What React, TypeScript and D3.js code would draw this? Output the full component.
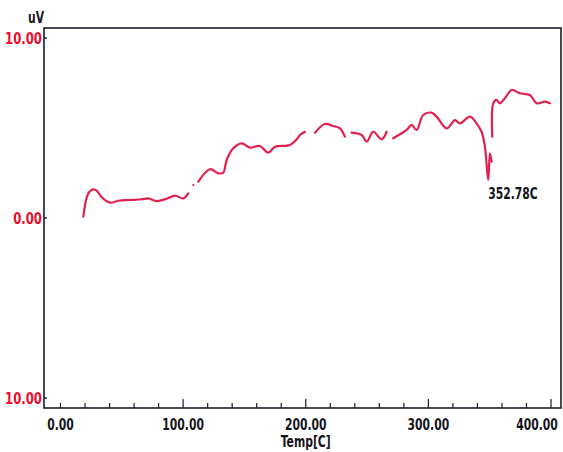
import * as d3 from "d3";

// DTA trace; null marks a break in the pen trace
const temps = [
  18.6, 22.7, 26.7, 29.5, 33.6, 40.4, 47.1, 56.7, 66.2, 71.6, 78.4, 86.6, 93.4, 100.1, 104.2,
  106, 108.3, 110, 112.4, 121.9, 128.7, 132.7, 135.5, 140.9, 147.7, 154.5, 162.6, 169.4, 174.9,
  187.1, 192.6, 195.3, 199.3, 202, 207.5, 215.6, 222.4, 227.9, 231.9, 234.5, 237.4, 245.6, 249.7,
  255, 261.9, 266, 268.5, 271.3, 282.3, 286.3, 290.4, 295.8, 302.6, 306.7, 314.9, 321.7, 325.7,
  333.9, 339.3, 343.4, 346.1, 348.8, 350.2, 351.6, 351.9, 352.1, 352.9, 355.6, 358.3, 362.4,
  367.9, 374.6, 382.8, 388.3, 395, 399.1,
];
const microvolts: (number | null)[] = [
  0.07, 1.37, 1.59, 1.52, 1.15, 0.85, 0.96, 1.0, 1.04, 1.09, 0.94, 1.07, 1.24, 1.09, 1.37,
  null, 1.83, null, 2.02, 2.71, 2.48, 2.52, 3.22, 3.87, 4.15, 3.91, 4.0, 3.63, 3.96,
  4.06, 4.37, 4.61, 4.79, null, 4.74, 5.22, 5.11, 4.98, 4.52, null, 4.74, 4.61, 4.24,
  4.79, 4.37, 4.79, null, 4.43, 4.89, 5.17, 4.89, 5.72, 5.85, 5.63, 4.98, 5.44, 5.26,
  5.63, 5.26, 4.79, 3.96, 2.11, 3.59, 3.13, null, 4.52, 6.37, 6.56, 6.37, 6.65,
  7.11, 6.93, 6.83, 6.37, 6.46, 6.37,
];

const xTicks = d3.range(0, 401, 20);
const xLabels = ["0.00", "100.00", "200.00", "300.00", "400.00"];
const yTicks = [10, 0, -10];
const yLabels = ["10.00", "0.00", "10.00"];

const peakLabel = "352.78C";
const peakTemp = 348.8;
const peakValue = 2.11;

const left = 44, top = 28, right = 561, bottom = 408;

const font = "'DejaVu Sans Condensed', 'DejaVu Sans', sans-serif";

// tall, narrow bold text like the plotter's
const Label = ({ x, y, anchor = "middle", fill = "#151520", size = 12, children }: any) => (
  <text transform={`translate(${x},${y}) scale(1,1.25)`} textAnchor={anchor} dominantBaseline="central"
    fontFamily={font} fontWeight="bold" fontSize={size} fill={fill}>{children}</text>
);

export default function App() {
  const x = d3.scaleLinear().domain([0, 400]).range([60.5, 551]);
  const y = d3.scaleLinear().domain([10, -10]).range([38, 398]);

  const pts = temps.map((t, i) => ({ t, v: microvolts[i] }));
  const line = d3
    .line<{ t: number; v: number | null }>()
    .defined((d) => d.v !== null)
    .x((d) => x(d.t))
    .y((d) => y(d.v as number))
    .curve(d3.curveCatmullRom);

  return (
    <svg width={563} height={452} style={{ position: "absolute", left: 0, top: 0, background: "#fff" }}>
      <rect x={left} y={top} width={right - left} height={bottom - top} fill="none" stroke="#1c1c28" strokeWidth={1.6} />

      {xTicks.map((t) => (
        <line key={t} x1={x(t)} x2={x(t)} y1={bottom} y2={bottom - (t % 100 === 0 && t > 0 ? 9 : 5)} stroke="#1c1c28" strokeWidth={1.2} />
      ))}
      {xLabels.map((l, i) => (
        <Label key={l} x={i === 4 ? 537 : x(i * 100)} y={424}>{l}</Label>
      ))}
      <Label x={x(200)} y={441}>Temp[C]</Label>

      {yTicks.map((t, i) => (
        <g key={i}>
          <line x1={left} x2={left + 3} y1={y(t)} y2={y(t)} stroke="#1c1c28" strokeWidth={1.4} />
          <Label x={42} y={y(t)} anchor="end" size={13} fill="#e8102e">{yLabels[i]}</Label>
        </g>
      ))}
      <Label x={36} y={17}>uV</Label>

      <path d={line(pts) ?? ""} fill="none" stroke="#e0204f" strokeWidth={2.2} strokeLinejoin="round" strokeLinecap="round" />

      <Label x={x(peakTemp)} y={y(peakValue) + 13} anchor="start">{peakLabel}</Label>
    </svg>
  );
}
